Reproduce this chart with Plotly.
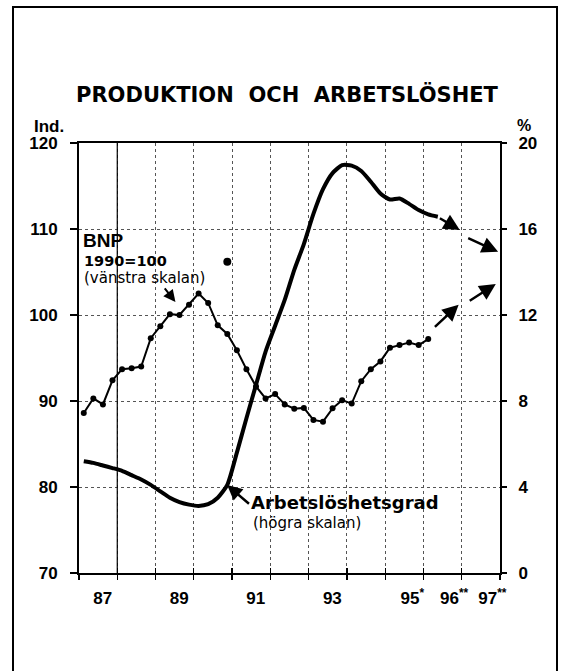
import plotly.graph_objects as go

# ---------------- data ----------------
start_year = 1987
bnp_values = [88.6, 90.3, 89.6, 92.4, 93.7, 93.8, 94.0, 97.3, 98.7, 100.1, 100.0, 101.2,
              102.5, 101.4, 98.8, 97.8, 95.9, 93.7, 91.7, 90.3, 90.8, 89.6, 89.1, 89.2,
              87.8, 87.6, 89.15, 90.1, 89.7, 92.3, 93.7, 94.6, 96.2, 96.5, 96.8, 96.5, 97.2]
unemp_values = [5.2, 5.12, 5.0, 4.88, 4.75, 4.55, 4.35, 4.1, 3.8, 3.5, 3.3, 3.18,
                3.12, 3.2, 3.5, 4.1, 5.6, 7.2, 8.75, 10.3, 11.5, 12.7, 14.1, 15.3,
                16.7, 17.85, 18.6, 18.97, 18.95, 18.7, 18.2, 17.65, 17.37, 17.42, 17.17,
                16.88, 16.68, 16.57]
stray_point_year = [1990.875]
stray_point_value = [106.2]

# forecast arrows (tail -> head)
bnp_fc_tail_years = [1996.26, 1997.17]
bnp_fc_tail_values = [98.45, 101.55]
bnp_fc_head_years = [1996.92, 1997.89]
bnp_fc_head_values = [101.2, 103.6]
un_fc_tail_years = [1996.39, 1997.13]
un_fc_tail_values = [16.54, 15.61]
un_fc_head_years = [1996.95, 1997.95]
un_fc_head_values = [15.95, 14.94]

tick_years = [1987, 1989, 1991, 1993, 1995, 1996, 1997]
tick_labels = ["87", "89", "91", "93", "95", "96", "97"]
tick_stars = [0, 0, 0, 0, 1, 2, 2]

bnp_x = [start_year + (i + 0.5) / 4 for i in range(len(bnp_values))]
un_x = [start_year + (i + 0.5) / 4 for i in range(len(unemp_values))]

# ---------------- geometry helpers ----------------
W, H = 562, 671
L, R, T, B = 79, 500, 143, 573  # plot area in pixels


def px(x):
    return (x - L) / (R - L)


def py(y):
    return (B - y) / (B - T)


BOLD = "Liberation Sans"
WIDE = "DejaVu Sans"

fig = go.Figure()

fig.add_trace(go.Scatter(x=un_x, y=unemp_values, yaxis="y2", mode="lines",
                         line=dict(color="black", width=4, shape="spline", smoothing=0.6),
                         hoverinfo="skip", showlegend=False))
fig.add_trace(go.Scatter(x=bnp_x, y=bnp_values, mode="lines+markers",
                         line=dict(color="black", width=2),
                         marker=dict(color="black", size=6),
                         hoverinfo="skip", showlegend=False))
fig.add_trace(go.Scatter(x=stray_point_year, y=stray_point_value, mode="markers",
                         marker=dict(color="black", size=8),
                         hoverinfo="skip", showlegend=False))
# dummy traces so that overlay axes are drawn
fig.add_trace(go.Scatter(x=[tick_years[0]], y=[bnp_values[0]], xaxis="x2", mode="markers",
                         marker=dict(opacity=0), hoverinfo="skip", showlegend=False))
fig.add_trace(go.Scatter(x=[tick_years[0]], y=[bnp_values[0]], xaxis="x3", mode="markers",
                         marker=dict(opacity=0), hoverinfo="skip", showlegend=False))

xr = [start_year, start_year + 11]
label_pos = [y + 0.62 + 0.09 * s for y, s in zip(tick_years, tick_stars)]
label_text = [t + ("<sup>" + "*" * s + "</sup>" if s else "") for t, s in zip(tick_labels, tick_stars)]

fig.update_layout(
    width=W, height=H,
    margin=dict(l=L, r=W - R, t=T, b=H - B, pad=0),
    paper_bgcolor="white", plot_bgcolor="white",
    showlegend=False,
    hovermode=False,
    title=dict(text="PRODUKTION\u00a0\u00a0OCH\u00a0\u00a0ARBETSLÖSHET",
               x=287 / W, xanchor="center", y=1 - 95 / H, yanchor="middle",
               font=dict(family=WIDE, size=21, color="black", weight="bold")),
    xaxis=dict(range=xr, tick0=start_year, dtick=1, showticklabels=False,
               ticks="outside", ticklen=5, tickwidth=1.3, tickcolor="black",
               showgrid=True, gridcolor="#555", griddash="dot", gridwidth=1,
               showline=True, linecolor="black", linewidth=2, mirror=True,
               zeroline=False, fixedrange=True),
    xaxis2=dict(range=xr, overlaying="x", anchor="y", side="bottom",
                tickmode="array", tickvals=label_pos, ticktext=label_text,
                ticks="", showgrid=False, showline=False, zeroline=False,
                ticklabelstandoff=13,
                tickfont=dict(family=BOLD, size=17, color="black", weight="bold")),
    xaxis3=dict(range=xr, overlaying="x", anchor="y", side="bottom",
                tick0=start_year, dtick=1, ticks="inside", ticklen=5, tickwidth=1.3,
                tickcolor="black", showticklabels=False, showgrid=False,
                showline=False, zeroline=False),
    yaxis=dict(range=[70, 120], dtick=10, ticks="outside", ticklen=7, tickwidth=1.3,
               tickcolor="black", showgrid=True, gridcolor="#555", griddash="dot",
               gridwidth=1, showline=True, linecolor="black", linewidth=2,
               mirror=True, zeroline=False, ticklabelstandoff=9,
               tickfont=dict(family=BOLD, size=17, color="black", weight="bold")),
    yaxis2=dict(range=[0, 20], dtick=4, overlaying="y", side="right", anchor="x",
                ticks="outside", ticklen=6, tickwidth=1.3, tickcolor="black",
                showgrid=False, showline=False, zeroline=False, ticklabelstandoff=8,
                tickfont=dict(family=BOLD, size=17, color="black", weight="bold")),
)

# solid vertical line at 1988 (darker gridline in original)
fig.add_shape(type="line", xref="x", yref="paper", x0=start_year + 1, x1=start_year + 1,
              y0=0, y1=1, line=dict(color="black", width=1.2))
# outer frame
fig.add_shape(type="rect", xref="paper", yref="paper", x0=px(13), x1=px(557),
              y0=py(690), y1=py(7), line=dict(color="black", width=2))

ann = []


def txt(text, x, y, size, family=WIDE, bold=True, xanchor="left"):
    ann.append(dict(text=text, xref="paper", yref="paper", x=px(x), y=py(y),
                    xanchor=xanchor, yanchor="middle", showarrow=False,
                    font=dict(family=family, size=size, color="black",
                              weight="bold" if bold else "normal")))


txt("Ind.", 32, 126, 17, family=BOLD)
txt("%", 515, 125, 16, family=BOLD)
txt("BNP", 81, 240, 19, family=BOLD)
txt("1990=100", 82, 261, 14.5)
txt("(vänstra skalan)", 82, 278, 15, bold=False)
txt("Arbetslöshetsgrad", 249, 502, 18)
txt("(högra skalan)", 251, 523, 15, bold=False)

# label pointer arrows
ann.append(dict(x=1989.52, y=101.5, ax=1989.21, ay=103.26, xref="x", yref="y",
                axref="x", ayref="y", text="", showarrow=True, arrowhead=2,
                arrowsize=1.2, arrowwidth=2, arrowcolor="black"))
ann.append(dict(x=1990.87, y=4.09, ax=1991.48, ay=3.16, xref="x", yref="y2",
                axref="x", ayref="y2", text="", showarrow=True, arrowhead=2,
                arrowsize=1.2, arrowwidth=2.5, arrowcolor="black"))
# forecast arrows
for tx, tv, hx, hv in zip(bnp_fc_tail_years, bnp_fc_tail_values, bnp_fc_head_years, bnp_fc_head_values):
    ann.append(dict(x=hx, y=hv, ax=tx, ay=tv, xref="x", yref="y", axref="x", ayref="y",
                    text="", showarrow=True, arrowhead=2, arrowsize=1.3, arrowwidth=2.5,
                    arrowcolor="black"))
for tx, tv, hx, hv in zip(un_fc_tail_years, un_fc_tail_values, un_fc_head_years, un_fc_head_values):
    ann.append(dict(x=hx, y=hv, ax=tx, ay=tv, xref="x", yref="y2", axref="x", ayref="y2",
                    text="", showarrow=True, arrowhead=2, arrowsize=1.3, arrowwidth=2.5,
                    arrowcolor="black"))

fig.update_layout(annotations=ann)
fig.write_html("out.html", config={"displayModeBar": False, "staticPlot": True},
               post_script="document.body.style.margin='0';document.body.style.overflow='hidden';")
